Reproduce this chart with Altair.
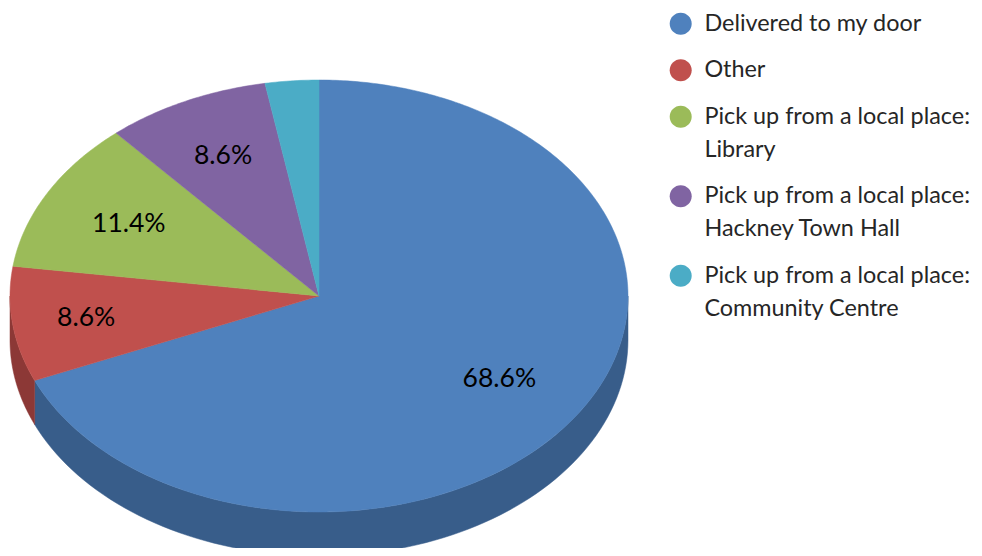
import math
import altair as alt
import pandas as pd

categories = ["Delivered to my door", "Other", "Pick up from a local place: Library",
              "Pick up from a local place: Hackney Town Hall",
              "Pick up from a local place: Community Centre"]
shares = [68.6, 8.6, 11.4, 8.6, 2.8]
labels = ["68.6%", "8.6%", "11.4%", "8.6%", ""]
colors = ["#4F81BD", "#C0504D", "#9BBB59", "#8064A2", "#4BACC6"]
side_colors = ["#385D8A", "#8C3836", "#71893F", "#5C4776", "#357D91"]

W, H = 966, 540
CX, CY, RX, RY, DEPTH = 311, 288, 309, 216, 44
FONT = "Lato"
label_radius = [0.70, 0.76, 0.70, 0.72, 0.72]
x_scale = alt.Scale(domain=[-CX / RX, (W - CX) / RX], range=[0, W], nice=False, zero=False)
y_scale = alt.Scale(domain=[-(H - CY) / RY, CY / RY], range=[H, 0], nice=False, zero=False)
depth_u = DEPTH / RY
total = sum(shares)

rows, side_rows, text_rows = [], [], []
cum = 0.0
for i, (c, s) in enumerate(zip(categories, shares)):
    a0, a1 = cum / total * 2 * math.pi, (cum + s) / total * 2 * math.pi
    cum += s
    n = max(4, int((a1 - a0) * 90))
    pts = [(0.0, 0.0)] + [(math.sin(a0 + (a1 - a0) * k / n), math.cos(a0 + (a1 - a0) * k / n)) for k in range(n + 1)] + [(0.0, 0.0)]
    for k, (x, y) in enumerate(pts):
        rows.append(dict(cat=c, ord=k, x=x, y=y))
    b0, b1 = max(a0, math.pi / 2), min(a1, 3 * math.pi / 2)
    if b1 > b0:
        arc = [(math.sin(b0 + (b1 - b0) * k / 90), math.cos(b0 + (b1 - b0) * k / 90)) for k in range(91)]
        ring = arc + [(x, y - depth_u) for x, y in reversed(arc)] + [arc[0]]
        for k, (x, y) in enumerate(ring):
            side_rows.append(dict(cat=c, ord=k, x=x, y=y))
    m = (a0 + a1) / 2
    if labels[i]:
        r = label_radius[i]
        text_rows.append(dict(label=labels[i], x=r * math.sin(m), y=r * math.cos(m)))

X = alt.X("x:Q", scale=x_scale, axis=None)
Y = alt.Y("y:Q", scale=y_scale, axis=None)
side_scale = alt.Scale(domain=categories, range=side_colors)
color_scale = alt.Scale(domain=categories, range=colors)

side = alt.Chart(pd.DataFrame(side_rows)).mark_line(strokeWidth=0.5, interpolate="linear").encode(
    x=X, y=Y, order="ord:Q", detail="cat:N",
    fill=alt.Fill("cat:N", scale=side_scale, legend=None),
    stroke=alt.Stroke("cat:N", scale=side_scale, legend=None))

# circle moved down inside its symbol box so that it sits level with a label's first line
SYMBOL = "M-1,1A1,1 0 1 1 1,1A1,1 0 1 1 -1,1Z"
legend = alt.Legend(title=None, orient="none", legendX=661, legendY=-7, symbolType=SYMBOL,
                    symbolSize=484, symbolStrokeWidth=0, labelFont=FONT, labelFontSize=23.4,
                    labelColor="#262626", labelLimit=320, rowPadding=11.5, labelOffset=12,
                    labelBaseline="top",
                    labelExpr="indexof(datum.label,':')>0 ? [slice(datum.label,0,indexof(datum.label,':')+1), slice(datum.label,indexof(datum.label,':')+2)] : datum.label")

top = alt.Chart(pd.DataFrame(rows)).mark_line(strokeWidth=0.5).encode(
    x=X, y=Y, order="ord:Q", detail="cat:N",
    fill=alt.Fill("cat:N", scale=color_scale, sort=categories, legend=legend),
    stroke=alt.Stroke("cat:N", scale=color_scale, legend=None))

text = alt.Chart(pd.DataFrame(text_rows)).mark_text(font=FONT, fontSize=26.5, color="#000000").encode(
    x=X, y=Y, text="label:N")

chart = alt.layer(side, top, text).resolve_scale(fill="independent", stroke="independent").properties(
    width=W, height=H, padding=0, autosize=alt.AutoSizeParams(type="none")
).configure(style={"guide-label": {"lineHeight": 33}}).configure_view(stroke=None)
chart.save("out.html", embed_options={"renderer": "svg", "actions": False})
